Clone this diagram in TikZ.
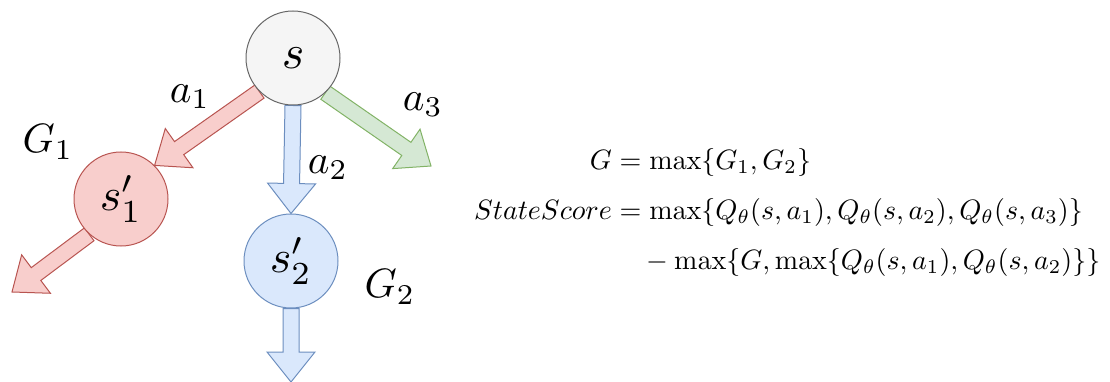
\documentclass[tikz,border=0pt]{standalone}
\usepackage{amsmath}
\usepackage{graphicx}
\usetikzlibrary{calc,backgrounds}
\definecolor{redfill}{HTML}{F8CECC}\definecolor{redline}{HTML}{B85450}
\definecolor{bluefill}{HTML}{DAE8FC}\definecolor{blueline}{HTML}{6C8EBF}
\definecolor{greenfill}{HTML}{D5E8D4}\definecolor{greenline}{HTML}{82B366}
\definecolor{grayfill}{HTML}{F5F5F5}\definecolor{grayline}{HTML}{666666}
\newcommand{\blockarr}[3]{%
  \coordinate (bh) at ($(#2)!30pt!(#1)$);
  \path[#3, line width=1pt, line join=miter]
    ($(#1)!8pt!90:(#2)$) -- ($(bh)!8pt!90:(#2)$) -- ($(bh)!24pt!90:(#2)$) -- (#2)
    -- ($(bh)!24pt!-90:(#2)$) -- ($(bh)!8pt!-90:(#2)$) -- ($(#1)!8pt!-90:(#2)$) -- cycle;}
\tikzset{
  state/.style={circle, minimum size=94pt, inner sep=0pt, line width=1pt},
  redarr/.style={fill=redfill, draw=redline},
  bluearr/.style={fill=bluefill, draw=blueline},
  greenarr/.style={fill=greenfill, draw=greenline},
  lbl/.style={inner sep=0pt}
}
\begin{document}
\begin{tikzpicture}[x=1pt,y=-1pt]
\useasboundingbox (0,0) rectangle (1110,382);
\node[state, fill=grayfill, draw=grayline] (s) at (293,58) {\scalebox{4.8}{$s$}};
\node[state, fill=redfill, draw=redline] (s1) at (121,199) {\scalebox{4.6}{$s'_1$}};
\node[state, fill=bluefill, draw=blueline] (s2) at (291,261) {\scalebox{4.6}{$s'_2$}};
\coordinate (t3) at (431,166);
\coordinate (t4) at (12,292);
\coordinate (t5) at (291,382);
\begin{pgfonlayer}{background}
\blockarr{s.225}{s1.45}{redarr}
\blockarr{s.270}{s2.90}{bluearr}
\blockarr{s.313}{t3}{greenarr}
\blockarr{s1.228}{t4}{redarr}
\blockarr{s2.270}{t5}{bluearr}
\end{pgfonlayer}
\node[lbl] (la1) at (190,97) {\scalebox{4.1}{$a_1$}};
\node[lbl] (la2) at (328,168) {\scalebox{4.1}{$a_2$}};
\node[lbl] (la3) at (423,105) {\scalebox{4.1}{$a_3$}};
\node[lbl] (lg1) at (48,142) {\scalebox{4.1}{$G_1$}};
\node[lbl] (lg2) at (390,287) {\scalebox{4.1}{$G_2$}};
\node[anchor=west, inner sep=0pt] (eq) at (474,213) {\scalebox{2.8}{\setlength{\jot}{5.86pt}$\begin{aligned}
G &= \max\{G_1,G_2\}\\
StateScore &= \max\{Q_\theta(s,a_1),Q_\theta(s,a_2),Q_\theta(s,a_3)\}\\
&\quad -\max\{G,\max\{Q_\theta(s,a_1),Q_\theta(s,a_2)\}\}
\end{aligned}$}};
\end{tikzpicture}
\end{document}
